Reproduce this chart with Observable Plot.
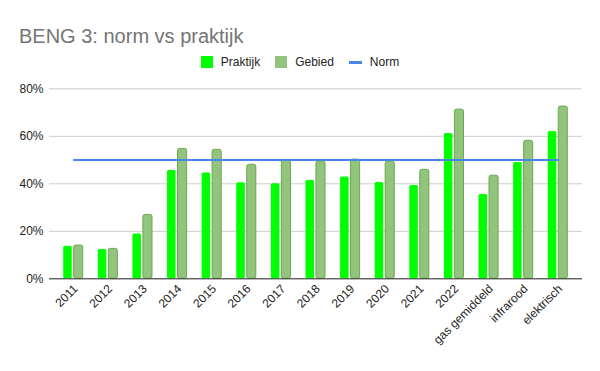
<!DOCTYPE html>
<html>
<head>
<meta charset="utf-8">
<script src="https://cdn.jsdelivr.net/npm/d3@7"></script>
<script src="https://cdn.jsdelivr.net/npm/@observablehq/plot@0.6"></script>
<style>
  body { margin: 0; background: #fff; font-family: "Liberation Sans", Arial, sans-serif; }
  #wrap { position: relative; width: 600px; height: 371px; overflow: hidden; }
  #title { position: absolute; left: 19px; top: 26px; font-size: 20px; line-height: 20px; color: #757575; white-space: nowrap; }
  #legend { position: absolute; left: 0; top: 56px; width: 600px; height: 12px; display: flex; justify-content: center; align-items: center; font-size: 12px; line-height: 12px; color: #222; }
  #legend .item { display: flex; align-items: center; margin: 0 7.5px; }
  #legend .sw { width: 12px; height: 12px; margin-right: 8px; }
  #legend .ln { width: 13px; height: 3px; margin-right: 8px; }
  #chart { position: absolute; left: 0; top: 75px; }
</style>
</head>
<body>
<div id="wrap">
  <div id="title">BENG 3: norm vs praktijk</div>
  <div id="legend"></div>
  <div id="chart"></div>
</div>
<script>
const categories = ["2011","2012","2013","2014","2015","2016","2017","2018","2019","2020","2021","2022","gas gemiddeld","infrarood","elektrisch"];
const praktijk = [0.137,0.123,0.189,0.456,0.446,0.404,0.400,0.414,0.429,0.405,0.393,0.612,0.355,0.490,0.620];
const gebied   = [0.140,0.126,0.269,0.547,0.543,0.480,0.498,0.494,0.502,0.494,0.459,0.712,0.434,0.581,0.725];
const norm     = [0.5,0.5,0.5,0.5,0.5,0.5,0.5,0.5,0.5,0.5,0.5,0.5,0.5,0.5,0.5];
const yTicks = [0,0.2,0.4,0.6,0.8];
const seriesNames = ["Praktijk","Gebied","Norm"];
const colors = {Praktijk: "#00ff00", Gebied: "#93c47d", GebiedStroke: "#6aa84f", Norm: "#4a86e8"};

const rowsP = categories.map((c,i) => ({cat: c, v: praktijk[i]}));
const rowsG = categories.map((c,i) => ({cat: c, v: gebied[i]}));
const rowsN = categories.map((c,i) => ({cat: c, v: norm[i]}));

// legend
const legend = document.getElementById("legend");
seriesNames.forEach(name => {
  const it = document.createElement("div");
  it.className = "item";
  const sw = document.createElement("div");
  if (name === "Norm") { sw.className = "ln"; sw.style.background = colors.Norm; }
  else { sw.className = "sw"; sw.style.background = colors[name]; }
  it.appendChild(sw);
  const t = document.createElement("span");
  t.textContent = name;
  it.appendChild(t);
  legend.appendChild(it);
});

const chart = Plot.plot({
  width: 600,
  height: 296,
  marginLeft: 49,
  marginRight: 18,
  marginTop: 13.3,
  marginBottom: 92.7,
  style: {fontFamily: "Liberation Sans, Arial, sans-serif", fontSize: "12px", color: "#222", background: "transparent"},
  x: {domain: categories, paddingInner: 0.42, paddingOuter: 0.41, round: false, label: null},
  y: {domain: [0, 0.8], label: null},
  marks: [
    Plot.gridY(yTicks, {stroke: "#cccccc", strokeOpacity: 1}),
    Plot.axisY(yTicks, {tickSize: 0, tickPadding: 6, tickFormat: d3.format(".0%"), fontSize: 12, fill: "#222", label: null}),
    Plot.barY(rowsP, {x: "cat", y: "v", fill: colors.Praktijk, insetLeft: 0, insetRight: 11.5, rx: 1.5}),
    Plot.barY(rowsG, {x: "cat", y: "v", fill: colors.Gebied, stroke: colors.GebiedStroke, strokeWidth: 1, insetLeft: 10.5, insetRight: 0.5, rx: 2}),
    Plot.ruleY([0], {stroke: "#333", strokeWidth: 1}),
    Plot.lineY(rowsN, {x: "cat", y: "v", stroke: colors.Norm, strokeWidth: 2}),
    Plot.axisX(categories, {tickSize: 0, tickPadding: 8, tickRotate: -45, dx: 2, fontSize: 12, fill: "#222", label: null})
  ]
});
document.getElementById("chart").appendChild(chart);
</script>
</body>
</html>
